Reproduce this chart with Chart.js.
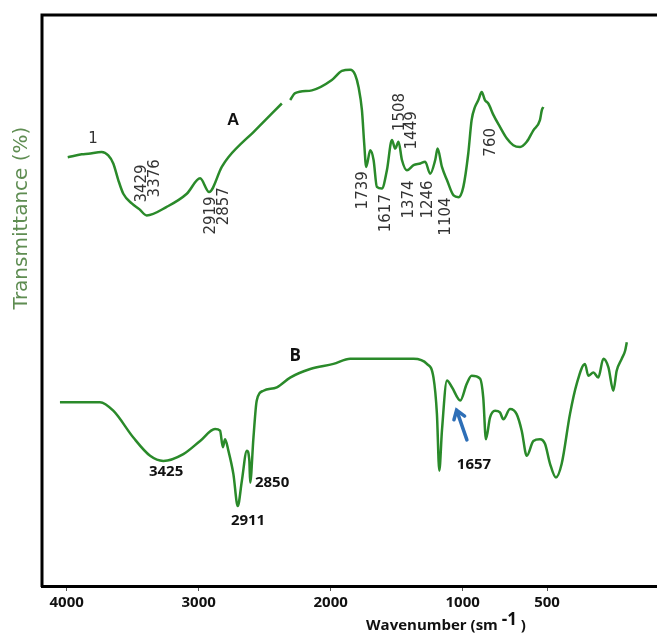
<!DOCTYPE html>
<html>
<head>
<meta charset="utf-8">
<script src="https://cdn.jsdelivr.net/npm/chart.js@4/dist/chart.umd.min.js"></script>
<style>
  html, body { margin: 0; padding: 0; background: #fff; }
  #wrap { width: 657px; height: 637px; }
</style>
</head>
<body>
<div id="wrap"><canvas id="ftir" width="657" height="637"></canvas></div>
<script>
// axis ticks (the original axis is stretched below 1000)
const xTicks = [4000, 3000, 2000, 1000, 500];

// spectrum A - wavenumber / transmittance (a.u.), null = gap in the trace
const wnA = [3992, 3886, 3836, 3735, 3685, 3647, 3609, 3571, 3507, 3450, 3394, 3242, 3090, 2989, 2921,
  2825, 2775, 2572, 2370, 2340, 2307, 2269, 2142, 1991, 1915, 1852, 1814, 1789, 1763, 1746, 1731, 1700,
  1675, 1650, 1612, 1574, 1536, 1511, 1486, 1460, 1422, 1372, 1321, 1284, 1246, 1208, 1190, 1157, 1119,
  1069, 1031, 996, 967, 947, 927, 907, 887, 868, 848, 818, 779, 739, 700, 660, 620, 581, 542, 531, 522];
const tA = [75.1, 75.6, 75.7, 76.0, 75.4, 74.0, 71.1, 68.7, 67.0, 66.0, 64.9, 66.4, 68.7, 71.4, 69.0,
  73.4, 75.1, 79.8, 84.5, null, 85.1, 86.3, 86.8, 88.6, 90.2, 90.4, 89.5, 87.4, 83.3, 77.5, 73.4, 76.3,
  74.6, 69.9, 69.6, 72.8, 78.1, 76.6, 77.8, 74.6, 72.8, 73.7, 74.0, 74.3, 72.2, 74.6, 76.6, 73.4, 71.1,
  68.4, 68.1, 69.9, 75.7, 81.6, 83.9, 85.1, 86.5, 85.1, 84.5, 82.5, 80.4, 78.4, 77.2, 76.9, 77.8, 79.8, 81.6, 83.3, 83.9];

// spectrum B
const wnB = [4051, 3748, 3647, 3495, 3368, 3268, 3116, 2989, 2876, 2838, 2817, 2800, 2775, 2737, 2704,
  2673, 2635, 2616, 2610, 2585, 2560, 2509, 2408, 2307, 2155, 1979, 1852, 1675, 1372, 1271, 1221, 1195,
  1177, 1157, 1119, 1081, 1018, 976, 947, 897, 878, 862, 838, 808, 779, 759, 719, 680, 650, 620, 581,
  542, 512, 482, 447, 413, 364, 324, 275, 255, 225, 196, 166, 136, 107, 87, 57, 37, 27];
const tB = [32.2, 32.2, 30.7, 26.0, 22.8, 21.9, 23.1, 25.4, 27.5, 27.2, 24.3, 25.7, 23.7, 19.6, 14.0,
  18.4, 23.7, 21.9, 18.1, 26.0, 32.5, 34.2, 34.8, 36.5, 38.0, 38.9, 39.8, 39.8, 39.8, 38.9, 36.5, 30.1,
  20.2, 27.2, 36.0, 34.8, 32.5, 35.4, 36.8, 36.3, 33.0, 25.7, 29.5, 30.7, 30.4, 29.2, 31.0, 30.1, 27.2, 22.8, 25.4,
  25.7, 24.9, 21.4, 19.0, 21.4, 30.1, 35.4, 38.9, 36.8, 37.4, 36.5, 39.8, 38.3, 34.2, 37.7, 39.8, 41.2, 42.7];

// peak annotations: text, wavenumber, transmittance, rotated?, kind
const peakLabels = [
  ['1', 3801, 78.2, false, 'num'],
  ['A', 2739, 81.6, false, 'letterA'],
  ['3429', 3429, 70.5, true, 'num'],
  ['3376', 3331, 71.4, true, 'num'],
  ['2919', 2906, 64.9, true, 'num'],
  ['2857', 2807, 66.5, true, 'num'],
  ['1739', 1754, 69.3, true, 'num'],
  ['1617', 1579, 65.3, true, 'num'],
  ['1508', 1473, 83.0, true, 'num'],
  ['1449', 1382, 79.8, true, 'num'],
  ['1374', 1405, 67.7, true, 'num'],
  ['1246', 1261, 67.7, true, 'num'],
  ['1104', 1124, 64.7, true, 'num'],
  ['760', 832, 77.7, true, 'num'],
  ['B', 2269, 40.2, false, 'letterB'],
  ['3425', 3247, 20.0, false, 'bold'],
  ['2911', 2626, 11.4, false, 'bold'],
  ['2850', 2444, 18.1, false, 'bold'],
  ['1657', 933, 21.2, false, 'bold']
];
// blue arrow pointing at the 1657 shoulder: [tail wn, tail T, head wn, head T]
const arrowB = [975, 25.6, 1046, 30.8];

const BREAK = 1000, STRETCH = 1.278;
function warp(v) { return v >= BREAK ? v : BREAK - (BREAK - v) * STRETCH; }
function unwarp(w) { return w >= BREAK ? w : BREAK - (BREAK - w) / STRETCH; }

// linear scale with a stretched segment below 1000 cm-1, like the original instrument plot
class BrokenScale extends Chart.LinearScale {
  static id = 'broken';
  getPixelForValue(v) { return super.getPixelForValue(warp(v)); }
  getValueForPixel(p) { return unwarp(super.getValueForPixel(p)); }
}
Chart.register(BrokenScale);

const styles = {
  num: { font: '15px "DejaVu Sans"', color: '#333' },
  letterA: { font: 'bold 17px "Liberation Sans"', color: '#111' },
  letterB: { font: 'bold 17px "Open Sans"', color: '#111' },
  bold: { font: 'bold 15px "Open Sans"', color: '#111' }
};

const overlay = {
  id: 'overlay',
  afterDraw(chart) {
    const { ctx, chartArea: ca, scales: { x, y } } = chart;
    ctx.save();
    // frame: left + top (bottom is the x axis border)
    ctx.strokeStyle = '#000';
    ctx.lineWidth = 3;
    ctx.beginPath();
    ctx.moveTo(ca.left, ca.bottom + 1);
    ctx.lineTo(ca.left, ca.top);
    ctx.lineTo(ca.right, ca.top);
    ctx.stroke();

    // peak labels
    ctx.textAlign = 'center';
    ctx.textBaseline = 'middle';
    peakLabels.forEach(([txt, wn, t, rot, kind]) => {
      const st = styles[kind];
      ctx.font = st.font;
      ctx.fillStyle = st.color;
      const px = x.getPixelForValue(wn), py = y.getPixelForValue(t);
      if (rot) {
        ctx.save();
        ctx.translate(px, py);
        ctx.rotate(-Math.PI / 2);
        ctx.fillText(txt, 0, 0);
        ctx.restore();
      } else {
        ctx.fillText(txt, px, py);
      }
    });

    // arrow
    const tx = x.getPixelForValue(arrowB[0]), ty = y.getPixelForValue(arrowB[1]);
    const hx = x.getPixelForValue(arrowB[2]), hy = y.getPixelForValue(arrowB[3]);
    const ang = Math.atan2(hy - ty, hx - tx);
    ctx.strokeStyle = '#2e6fb7';
    ctx.lineWidth = 3.5;
    ctx.lineCap = 'round';
    ctx.beginPath();
    ctx.moveTo(tx, ty);
    ctx.lineTo(hx, hy);
    ctx.moveTo(hx - 10 * Math.cos(ang - 0.6), hy - 10 * Math.sin(ang - 0.6));
    ctx.lineTo(hx, hy);
    ctx.lineTo(hx - 10 * Math.cos(ang + 0.6), hy - 10 * Math.sin(ang + 0.6));
    ctx.stroke();

    // y title
    ctx.save();
    ctx.translate(22, 218);
    ctx.rotate(-Math.PI / 2);
    ctx.font = '20px "DejaVu Sans"';
    ctx.fillStyle = '#5f8d52';
    ctx.fillText('Transmittance (%)', 0, 0);
    ctx.restore();

    // x title with superscript
    ctx.fillStyle = '#111';
    ctx.textAlign = 'left';
    ctx.textBaseline = 'alphabetic';
    const main = 'Wavenumber (sm ', sup = '-1', close = ' )';
    ctx.font = 'bold 15px "Open Sans"';
    const w1 = ctx.measureText(main).width, w3 = ctx.measureText(close).width;
    ctx.font = 'bold 17px "Open Sans"';
    const w2 = ctx.measureText(sup).width;
    let sx = 446 - (w1 + w2 + w3) / 2;
    const base = 630;
    ctx.font = 'bold 15px "Open Sans"';
    ctx.fillText(main, sx, base);
    ctx.font = 'bold 17px "Open Sans"';
    ctx.fillText(sup, sx + w1, base - 5);
    ctx.font = 'bold 15px "Open Sans"';
    ctx.fillText(close, sx + w1 + w2, base);
    ctx.restore();
  }
};

const lineColor = '#2a8a2a';

new Chart(document.getElementById('ftir').getContext('2d'), {
  type: 'line',
  data: {
    datasets: [
      {
        label: 'A',
        data: wnA.map((v, i) => ({ x: v, y: tA[i] })),
        borderColor: lineColor,
        borderWidth: 2.5,
        pointRadius: 0,
        cubicInterpolationMode: 'monotone',
        spanGaps: false
      },
      {
        label: 'B',
        data: wnB.map((v, i) => ({ x: v, y: tB[i] })),
        borderColor: lineColor,
        borderWidth: 2.5,
        pointRadius: 0,
        cubicInterpolationMode: 'monotone'
      }
    ]
  },
  options: {
    responsive: false,
    animation: false,
    devicePixelRatio: 1,
    layout: { padding: { left: 42, right: 0, top: 15, bottom: 22 } },
    plugins: { legend: { display: false }, tooltip: { enabled: false } },
    scales: {
      x: {
        type: 'broken',
        reverse: true,
        bounds: 'data',
        min: warp(-152),
        max: 4187,
        afterBuildTicks: (scale) => { scale.ticks = xTicks.map(v => ({ value: v })); },
        grid: { drawOnChartArea: false, tickLength: 5, color: '#555', tickWidth: 1 },
        border: { display: true, color: '#000', width: 3 },
        ticks: {
          autoSkip: false,
          maxRotation: 0,
          color: '#111',
          padding: 3,
          font: { family: 'Open Sans', size: 15, weight: 'bold' },
          callback: (v) => String(v)
        }
      },
      y: {
        display: false,
        min: 0,
        max: 100
      }
    }
  },
  plugins: [overlay]
});
</script>
</body>
</html>
